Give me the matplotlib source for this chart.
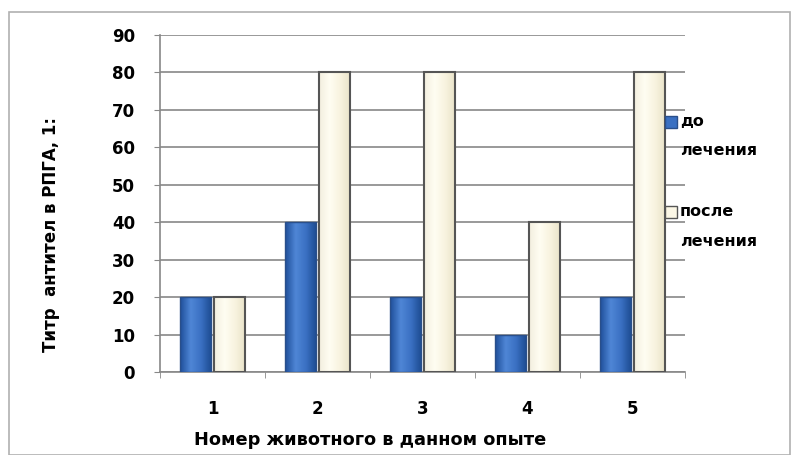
import numpy as np
import matplotlib
matplotlib.use("Agg")
import matplotlib.pyplot as plt
from matplotlib.colors import LinearSegmentedColormap
from matplotlib.patches import Rectangle


animals = ["1", "2", "3", "4", "5"]
before = [20, 40, 20, 10, 20]
after = [20, 80, 80, 40, 80]
series_names = [("до", "лечения"), ("после", "лечения")]

BLUE_CMAP = LinearSegmentedColormap.from_list("blue", ["#1f4f9a", "#4f86d6", "#3a70c2", "#1c4a90"])
CREAM_CMAP = LinearSegmentedColormap.from_list("cream", ["#f3efdf", "#fffdf2", "#f8f3df", "#e9e3c8"])
BLUE = "#3a70c2"
CREAM = "#fbf7e6"


def shade_bars(ax, bars, cmap):
  grad = np.linspace(0, 1, 64).reshape(1, -1)
  for b in bars:
    x, y = b.get_x(), b.get_y()
    w, h = b.get_width(), b.get_height()
    im = ax.imshow(grad, cmap=cmap, aspect="auto", extent=(x, x + w, y, y + h),
                   zorder=b.get_zorder() - 0.1, interpolation="bicubic")
    im.set_clip_path(b)
    b.set_facecolor("none")


def px(x, y):
  # pixel position (from top-left) -> figure fraction
  return x / 795, 1 - y / 455


def main():
  fig = plt.figure(figsize=(7.95, 4.55), dpi=100)
  fig.patches.append(Rectangle((9 / 795, 0), 781 / 795, 443 / 455, transform=fig.transFigure,
                               fill=False, edgecolor="#b0b0b0", linewidth=1.2))

  ax = fig.add_axes([160 / 795, 1 - 372 / 455, 525 / 795, 337 / 455])
  x = np.arange(len(animals))
  w = 0.3

  b1 = ax.bar(x - w / 2 - 0.01, before, w, color=BLUE, edgecolor="#2a4f8a", linewidth=1.0, zorder=3)
  b2 = ax.bar(x + w / 2 + 0.01, after, w, color=CREAM, edgecolor="#555555", linewidth=1.5, zorder=3)
  shade_bars(ax, b1, BLUE_CMAP)
  shade_bars(ax, b2, CREAM_CMAP)

  ax.set_xlim(-0.5, len(animals) - 0.5)
  ax.set_ylim(0, 90)
  ax.set_yticks(range(0, 91, 10))
  ax.set_xticks(x)
  ax.set_xticklabels(animals)
  ax.set_xticks(np.arange(-0.5, len(animals), 1), minor=True)
  ax.tick_params(axis="x", which="major", length=0, pad=20)
  ax.tick_params(axis="x", which="minor", length=4, color="#888888", direction="out")
  ax.tick_params(axis="y", length=4, color="#888888", pad=14)
  for lab in ax.get_xticklabels() + ax.get_yticklabels():
    lab.set_fontweight("bold")
    lab.set_fontsize(12)

  ax.yaxis.grid(True, color="#888888", linewidth=1.2, zorder=0)
  ax.set_axisbelow(True)
  for side in ["top", "right"]:
    ax.spines[side].set_visible(False)
  ax.spines["left"].set_color("#888888")
  ax.spines["bottom"].set_color("#888888")
  ax.spines["left"].set_linewidth(1.2)
  ax.spines["bottom"].set_linewidth(1.2)

  fig.text(*px(51, 234), "Титр  антител в РПГА, 1:", rotation=90,
           ha="center", va="center", fontsize=12, fontweight="bold")
  fig.text(*px(370, 440), "Номер животного в данном опыте",
           ha="center", va="center", fontsize=12.8, fontweight="bold")

  # legend drawn by hand so the entries sit where the original has them
  for (first, second), color, edge, y0 in zip(series_names, [BLUE, CREAM], ["#2a4f8a", "#555555"], [122, 212]):
    fx, fy = px(665, y0 + 6)
    fig.patches.append(Rectangle((fx, fy), 12 / 795, 12 / 455, transform=fig.transFigure,
                                 facecolor=color, edgecolor=edge, linewidth=1.0))
    fig.text(*px(680, y0), first, ha="left", va="center", fontsize=11.5, fontweight="bold")
    fig.text(*px(680, y0 + 29), second, ha="left", va="center", fontsize=11.5, fontweight="bold")

  fig.savefig("out.png", dpi=100)


if __name__ == "__main__":
  main()
